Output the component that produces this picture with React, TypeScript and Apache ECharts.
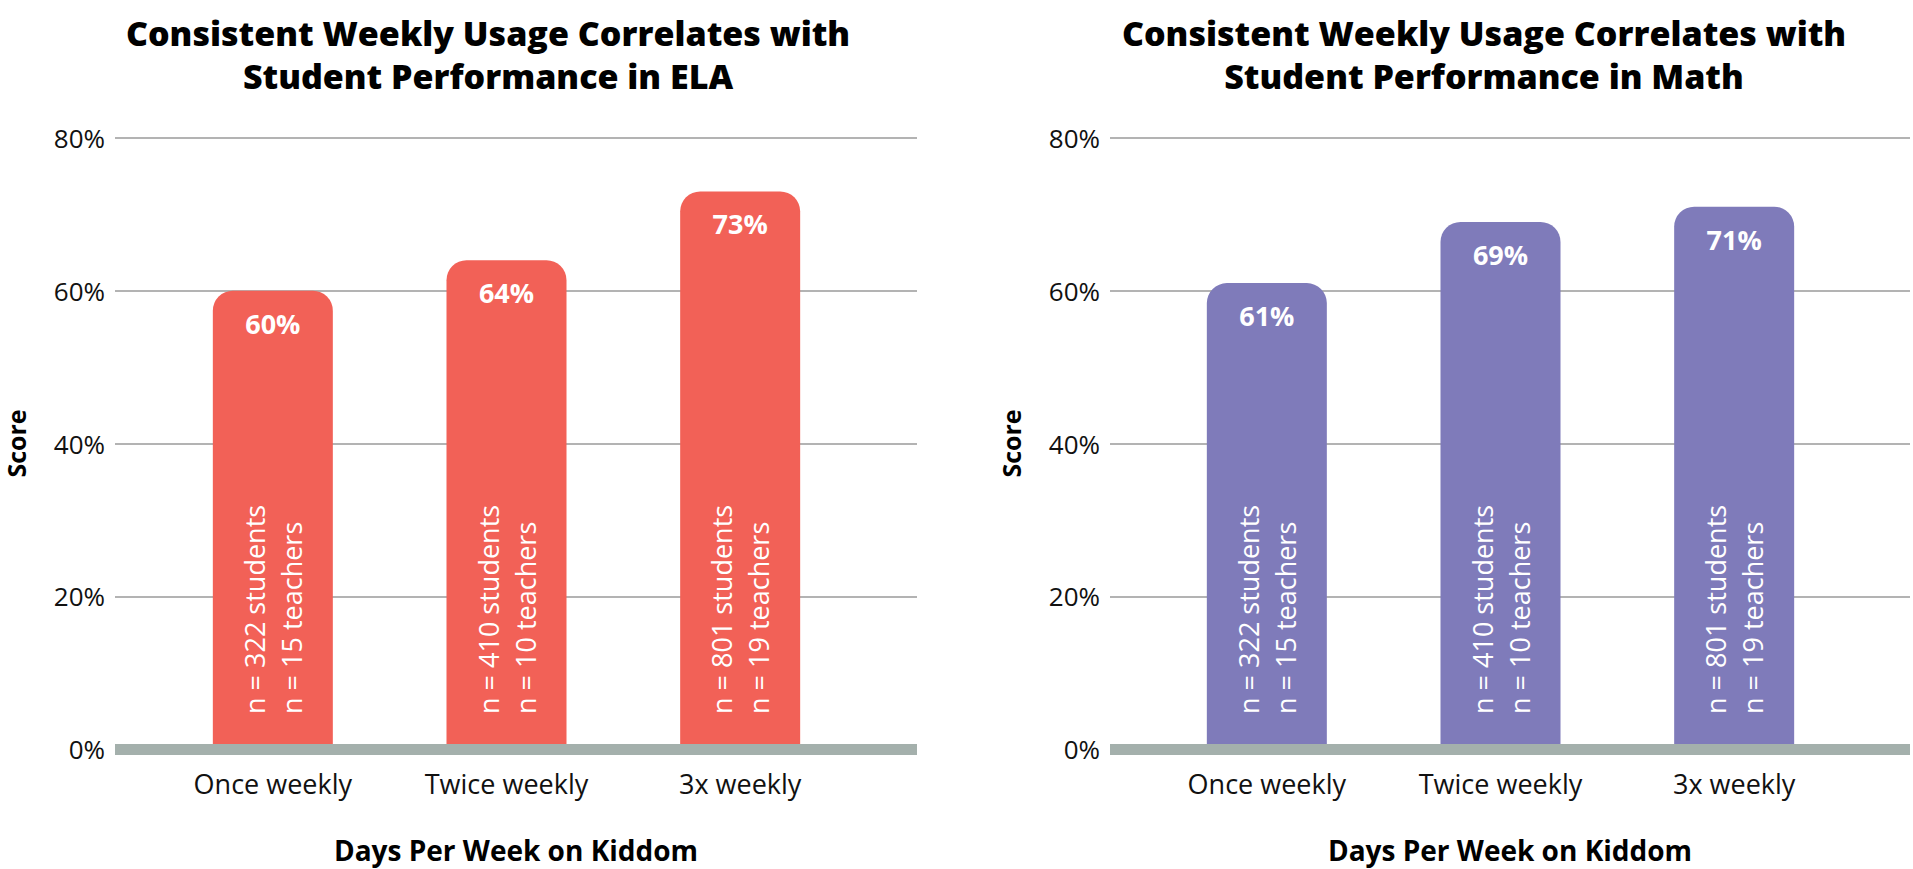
import React, { useEffect, useRef } from "react";
import * as echarts from "echarts";

const categories = ["Once weekly", "Twice weekly", "3x weekly"];
const elaScores = [60, 64, 73];
const mathScores = [61, 69, 71];
const studentLabels = ["n = 322 students", "n = 410 students", "n = 801 students"];
const teacherLabels = ["n = 15 teachers", "n = 10 teachers", "n = 19 teachers"];
const yTicks = { min: 0, max: 80, interval: 20 };
const titles = [
  "Consistent Weekly Usage Correlates with\nStudent Performance in ELA",
  "Consistent Weekly Usage Correlates with\nStudent Performance in Math",
];
const yName = "Score";
const xName = "Days Per Week on Kiddom";

const FONT = "'Open Sans', Lato, sans-serif";

export default function App() {
  const ref = useRef<HTMLDivElement>(null);
  useEffect(() => {
    if (!ref.current) return;
    const chart = echarts.init(ref.current, null, { renderer: "svg" });
    const panels = [
      { wide: 115, wideW: 802, bar: 156, color: "#f26157", data: elaScores, titleX: 483 },
      { wide: 1110, wideW: 800, bar: 1150, color: "#7f7bba", data: mathScores, titleX: 1479 },
    ];
    const grid: any[] = [];
    const xAxis: any[] = [];
    const yAxis: any[] = [];
    const series: any[] = [];
    const title: any[] = [];
    panels.forEach((p, k) => {
      const gi = k * 2;
      grid.push({ left: p.wide, width: p.wideW, top: 138, height: 611, outerBoundsMode: "none", containLabel: false });
      grid.push({ left: p.bar, width: 701, top: 138, height: 611, outerBoundsMode: "none", containLabel: false });
      title.push({
        text: titles[k],
        left: p.titleX,
        top: 6,
        textAlign: "center",
        textStyle: { fontFamily: FONT, fontWeight: 800, fontSize: 34, lineHeight: 43, color: "#000" },
      });
      xAxis.push({
        type: "category",
        gridIndex: gi,
        data: [""],
        z: 10,
        axisLine: { show: true, lineStyle: { color: "#a4b0ac", width: 11, cap: "butt" } },
        axisTick: { show: false },
        axisLabel: { show: false },
        name: xName,
        nameLocation: "middle",
        nameGap: 87,
        nameTextStyle: { fontFamily: FONT, fontWeight: 700, fontSize: 28, color: "#000" },
      });
      xAxis.push({
        type: "category",
        gridIndex: gi + 1,
        data: categories,
        axisLine: { show: false },
        axisTick: { show: false },
        axisLabel: { fontFamily: FONT, fontSize: 27, color: "#111", margin: 21 },
      });
      yAxis.push({
        type: "value",
        gridIndex: gi,
        min: yTicks.min,
        max: yTicks.max,
        interval: yTicks.interval,
        axisLine: { show: false },
        axisTick: { show: false },
        axisLabel: { formatter: "{value}%", fontFamily: FONT, fontSize: 26, color: "#111", margin: 10 },
        splitLine: { lineStyle: { color: "#9a9a9a", width: 1.5 } },
        name: yName,
        nameLocation: "middle",
        nameRotate: 90,
        nameGap: 87,
        nameTextStyle: { fontFamily: FONT, fontWeight: 700, fontSize: 25, color: "#000" },
      });
      yAxis.push({
        type: "value",
        gridIndex: gi + 1,
        min: yTicks.min,
        max: yTicks.max,
        interval: yTicks.interval,
        show: false,
      });
      series.push({
        type: "bar",
        xAxisIndex: gi + 1,
        yAxisIndex: gi + 1,
        data: p.data,
        barWidth: 120,
        itemStyle: { color: p.color, borderRadius: [20, 20, 0, 0] },
        label: {
          show: true,
          position: "insideTop",
          distance: 19,
          formatter: "{c}%",
          color: "#fff",
          fontFamily: FONT,
          fontWeight: 700,
          fontSize: 27,
        },
        z: 3,
      });
      series.push({
        type: "bar",
        xAxisIndex: gi + 1,
        yAxisIndex: gi + 1,
        data: p.data,
        barWidth: 120,
        barGap: "-100%",
        itemStyle: { color: "rgba(0,0,0,0)" },
        label: {
          show: true,
          position: "insideBottom",
          rotate: 90,
          align: "left",
          verticalAlign: "middle",
          distance: 35,
          formatter: (prm: any) => `${studentLabels[prm.dataIndex]}\n${teacherLabels[prm.dataIndex]}`,
          color: "#fff",
          fontFamily: FONT,
          fontSize: 27,
          lineHeight: 37,
        },
        z: 4,
      });
    });
    chart.setOption({ animation: false, title, grid, xAxis, yAxis, series });
    return () => chart.dispose();
  }, []);
  return (
    <div
      ref={ref}
      style={{ position: "fixed", left: 0, top: 0, width: 1913, height: 869, background: "#fff" }}
    />
  );
}
